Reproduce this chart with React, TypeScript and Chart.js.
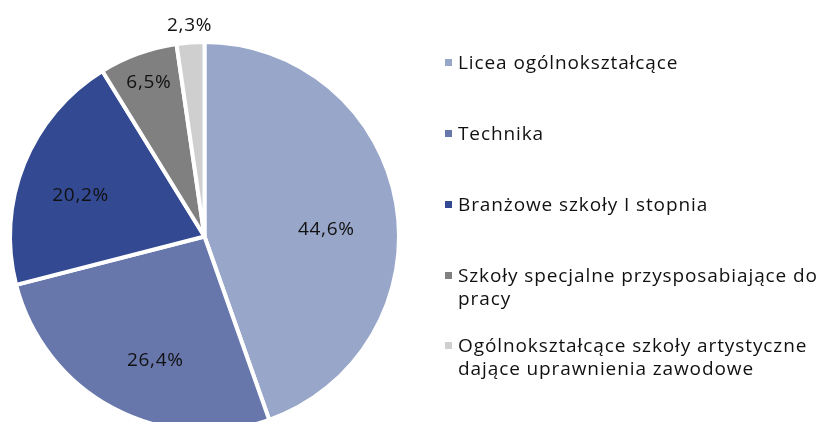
import React, { useEffect, useRef } from "react";
import { Chart, registerables } from "chart.js";

Chart.register(...registerables);

const categories = [
  "Licea ogólnokształcące",
  "Technika",
  "Branżowe szkoły I stopnia",
  "Szkoły specjalne przysposabiające do\npracy",
  "Ogólnokształcące szkoły artystyczne\ndające uprawnienia zawodowe",
];
const shares = [44.6, 26.4, 20.2, 6.5, 2.3];
const valueLabels = ["44,6%", "26,4%", "20,2%", "6,5%", "2,3%"];
const colors = ["#98A6C9", "#6777AC", "#334A92", "#808080", "#CFCFCF"];

// label placement tweaks (style only): [radius factor, angle offset in degrees]
const labelPlacement: [number, number][] = [
  [0.632, 6.6],
  [0.696, -6.4],
  [0.68, -3.6],
  [0.85, 0],
  [1.1, 0],
];
const legendTops = [51, 122, 193, 264, 334];

const FONT = "'Open Sans', 'Noto Sans', sans-serif";

const labelPlugin = {
  id: "sliceLabels",
  afterDatasetsDraw(chart: any) {
    const ctx = chart.ctx;
    const meta = chart.getDatasetMeta(0);
    ctx.save();
    ctx.font = `19px ${FONT}`;
    try {
      (ctx as any).letterSpacing = "0.7px";
    } catch (e) {}
    ctx.fillStyle = "#111";
    ctx.textAlign = "center";
    ctx.textBaseline = "middle";
    meta.data.forEach((arc: any, i: number) => {
      const { x, y, startAngle, endAngle, outerRadius } = arc.getProps(
        ["x", "y", "startAngle", "endAngle", "outerRadius"],
        true
      );
      const [f, off] = labelPlacement[i];
      const a = (startAngle + endAngle) / 2 + (off * Math.PI) / 180;
      const r = (outerRadius - 2) * f;
      ctx.fillText(valueLabels[i], x + Math.cos(a) * r + 0.35, y + Math.sin(a) * r);
    });
    ctx.restore();
  },
};

export default function App() {
  const ref = useRef<HTMLCanvasElement | null>(null);
  useEffect(() => {
    if (!ref.current) return;
    const chart = new Chart(ref.current, {
      type: "pie",
      data: {
        labels: categories,
        datasets: [
          {
            data: shares,
            backgroundColor: colors,
            borderColor: "#ffffff",
            borderWidth: 4,
            radius: 194.5,
          },
        ],
      },
      options: {
        animation: false,
        responsive: false,
        maintainAspectRatio: false,
        layout: { padding: { left: 0, right: 414, top: 51, bottom: 0 } },
        plugins: {
          legend: { display: false },
          tooltip: { enabled: false },
        },
      },
      plugins: [labelPlugin],
    });
    return () => chart.destroy();
  }, []);

  return (
    <div style={{ position: "fixed", left: 0, top: 0, width: 823, height: 422, background: "#fff", overflow: "hidden" }}>
      <canvas ref={ref} width={823} height={422} style={{ position: "absolute", left: 0, top: 0, width: 823, height: 422 }} />
      {categories.map((c, i) => (
        <div
          key={c}
          style={{
            position: "absolute",
            left: 445,
            top: legendTops[i],
            display: "flex",
            alignItems: "flex-start",
            fontFamily: FONT,
            fontSize: 19,
            letterSpacing: "0.9px",
            lineHeight: "23px",
            color: "#111",
            whiteSpace: "pre",
          }}
        >
          <span
            style={{
              display: "inline-block",
              width: 7,
              height: 7,
              marginTop: 8,
              marginRight: 6,
              background: colors[i],
              flex: "none",
            }}
          />
          <span>{c}</span>
        </div>
      ))}
    </div>
  );
}
